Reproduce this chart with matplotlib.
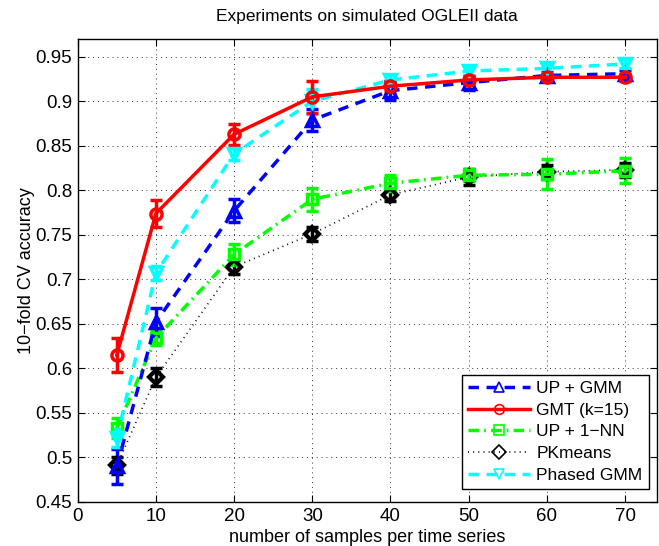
import matplotlib
matplotlib.use("Agg")
import matplotlib.pyplot as plt
import numpy as np

plt.rcParams['font.family'] = ['Liberation Sans', 'DejaVu Sans']

x = [5, 10, 20, 30, 40, 50, 60, 70]

up_gmm = [0.490, 0.652, 0.777, 0.879, 0.912, 0.921, 0.929, 0.931]
up_gmm_err = [0.020, 0.016, 0.013, 0.012, 0.011, 0.008, 0.004, 0.004]

gmt = [0.615, 0.774, 0.863, 0.905, 0.917, 0.924, 0.927, 0.927]
gmt_err = [0.019, 0.015, 0.012, 0.018, 0.006, 0.004, 0.004, 0.004]

up_1nn = [0.533, 0.634, 0.728, 0.790, 0.808, 0.817, 0.818, 0.822]
up_1nn_err = [0.011, 0.008, 0.012, 0.013, 0.009, 0.007, 0.017, 0.014]

pkmeans = [0.491, 0.590, 0.714, 0.751, 0.795, 0.815, 0.821, 0.823]
pkmeans_err = [0.010, 0.010, 0.008, 0.008, 0.007, 0.009, 0.008, 0.008]

phased = [0.522, 0.707, 0.841, 0.900, 0.924, 0.934, 0.937, 0.942]
phased_err = [0.010, 0.008, 0.007, 0.014, 0.006, 0.005, 0.005, 0.005]

labels = ['UP + GMM', 'GMT (k=15)', 'UP + 1\u2212NN', 'PKmeans', 'Phased GMM']
colors = ['#0000ff', '#ff0000', '#00ff00', '#000000', '#00ffff']
markers = ['^', 'o', 's', 'D', 'v']
styles = [(0, (3, 2.2)), '-', (0, (3, 1.5, 0.5, 1.5)), (0, (0.6, 2.5)), (0, (3, 2.2))]
widths = [2.5, 2.5, 2.5, 1.2, 2.5]
msizes = [8, 8, 7, 7, 8]
mews = [2.5, 2.5, 2.5, 3, 2.5]
series = [(up_gmm, up_gmm_err), (gmt, gmt_err), (up_1nn, up_1nn_err),
          (pkmeans, pkmeans_err), (phased, phased_err)]

fig = plt.figure(figsize=(6.59, 5.46), dpi=100)
ax = fig.add_axes([77.7/659, 44/546, (657-77.7)/659, (502-39)/546])

order = [3, 2, 0, 4, 1]
handles = [None]*5
for i in order:
    y, e = series[i]
    ax.errorbar(x, y, yerr=e, fmt='none', ecolor=colors[i], elinewidth=2.5,
                capsize=4.5, capthick=2.5, zorder=3)
    ln, = ax.plot(x, y, linestyle=styles[i], color=colors[i], lw=widths[i],
                  marker=markers[i], ms=msizes[i], mfc='none', mew=mews[i],
                  mec=colors[i], label=labels[i], zorder=4)
    handles[i] = ln

ax.set_xlim(0, 74.08)
ax.set_ylim(0.45, 0.97)
ax.set_xticks([0, 10, 20, 30, 40, 50, 60, 70])
ax.set_yticks([0.45, 0.5, 0.55, 0.6, 0.65, 0.7, 0.75, 0.8, 0.85, 0.9, 0.95])
ax.set_yticklabels(['0.45', '0.5', '0.55', '0.6', '0.65', '0.7', '0.75', '0.8', '0.85', '0.9', '0.95'])
ax.tick_params(direction='in', top=True, right=True, labelsize=13.5, length=5, width=0.8, pad=4)
ax.grid(True, linestyle=(0, (1, 4)), color='black', lw=0.7, alpha=0.8)
for s in ax.spines.values():
    s.set_linewidth(1.0)

ax.set_title('Experiments on simulated OGLEII data', fontsize=12.5, pad=13)
ax.set_xlabel('number of samples per time series', fontsize=13, labelpad=3)
ax.set_ylabel('10\u2212fold CV accuracy', fontsize=13, labelpad=0)

leg = ax.legend(handles=handles, labels=labels, loc='lower left',
                bbox_to_anchor=(0.663, 0.028), handlelength=3.6, fontsize=12.5,
                fancybox=False, framealpha=1, edgecolor='black',
                borderpad=0.35, labelspacing=0.38, handletextpad=0.35,
                borderaxespad=0)
leg.get_frame().set_linewidth(1.0)
for h in leg.legend_handles:
    h.set_markeredgewidth(1.2)
    h.set_markersize(7)

fig.savefig('out.png', dpi=100)
